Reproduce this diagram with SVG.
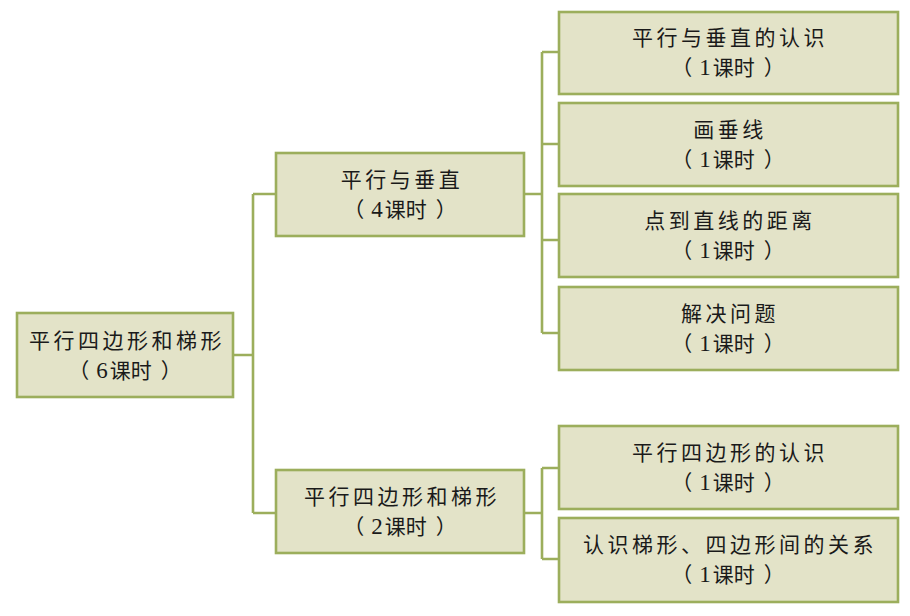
<svg xmlns="http://www.w3.org/2000/svg" width="910" height="616" viewBox="0 0 910 616">
  <style>
    .box { fill: #e3e3c8; stroke: #9cae5c; stroke-width: 2.6; }
    .conn { fill: none; stroke: #9cae5c; stroke-width: 2.6; }
    text { font-family: "Liberation Serif", "Noto Sans CJK SC", serif; font-size: 21px; fill: #1a1a1a; text-anchor: middle; }
    .t1 { letter-spacing: 3.5px; }
    .d { font-size: 23px; }
  </style>
  <rect width="910" height="616" fill="#ffffff"/>
  <g id="connectors">
    <path class="conn" d="M233,355 H253 M253,194 V513 M253,194 H276 M253,513 H276"/>
    <path class="conn" d="M524,194 H542 M542,52 V333 M542,52 H559 M542,144 H559 M542,240 H559 M542,333 H559"/>
    <path class="conn" d="M524,513 H542 M542,468 V559 M542,468 H559 M542,559 H559"/>
  </g>
  <g id="root">
    <rect class="box" x="17" y="313" width="216" height="84"/>
    <text class="t1" x="127" y="348">平行四边形和梯形</text>
    <text x="125" y="378">（<tspan class="d" dx="7">6</tspan><tspan dx="2">课时</tspan><tspan dx="9">）</tspan></text>
  </g>
  <g id="mid1">
    <rect class="box" x="276" y="153" width="248" height="83"/>
    <text class="t1" x="402" y="187">平行与垂直</text>
    <text x="400" y="217">（<tspan class="d" dx="7">4</tspan><tspan dx="2">课时</tspan><tspan dx="9">）</tspan></text>
  </g>
  <g id="mid2">
    <rect class="box" x="276" y="470" width="248" height="83"/>
    <text class="t1" x="402" y="504">平行四边形和梯形</text>
    <text x="400" y="534">（<tspan class="d" dx="7">2</tspan><tspan dx="2">课时</tspan><tspan dx="9">）</tspan></text>
  </g>
  <g id="r1">
    <rect class="box" x="559" y="12" width="339" height="82"/>
    <text class="t1" x="730" y="45">平行与垂直的认识</text>
    <text x="728" y="75">（<tspan class="d" dx="7">1</tspan><tspan dx="2">课时</tspan><tspan dx="9">）</tspan></text>
  </g>
  <g id="r2">
    <rect class="box" x="559" y="103" width="339" height="83"/>
    <text class="t1" x="730" y="137">画垂线</text>
    <text x="728" y="167">（<tspan class="d" dx="7">1</tspan><tspan dx="2">课时</tspan><tspan dx="9">）</tspan></text>
  </g>
  <g id="r3">
    <rect class="box" x="559" y="194" width="339" height="83"/>
    <text class="t1" x="730" y="228">点到直线的距离</text>
    <text x="728" y="258">（<tspan class="d" dx="7">1</tspan><tspan dx="2">课时</tspan><tspan dx="9">）</tspan></text>
  </g>
  <g id="r4">
    <rect class="box" x="559" y="287" width="339" height="83"/>
    <text class="t1" x="730" y="321">解决问题</text>
    <text x="728" y="351">（<tspan class="d" dx="7">1</tspan><tspan dx="2">课时</tspan><tspan dx="9">）</tspan></text>
  </g>
  <g id="r5">
    <rect class="box" x="559" y="426" width="339" height="83"/>
    <text class="t1" x="730" y="460">平行四边形的认识</text>
    <text x="728" y="490">（<tspan class="d" dx="7">1</tspan><tspan dx="2">课时</tspan><tspan dx="9">）</tspan></text>
  </g>
  <g id="r6">
    <rect class="box" x="559" y="518" width="339" height="84"/>
    <text class="t1" x="730" y="552">认识梯形、四边形间的关系</text>
    <text x="728" y="582">（<tspan class="d" dx="7">1</tspan><tspan dx="2">课时</tspan><tspan dx="9">）</tspan></text>
  </g>
</svg>
